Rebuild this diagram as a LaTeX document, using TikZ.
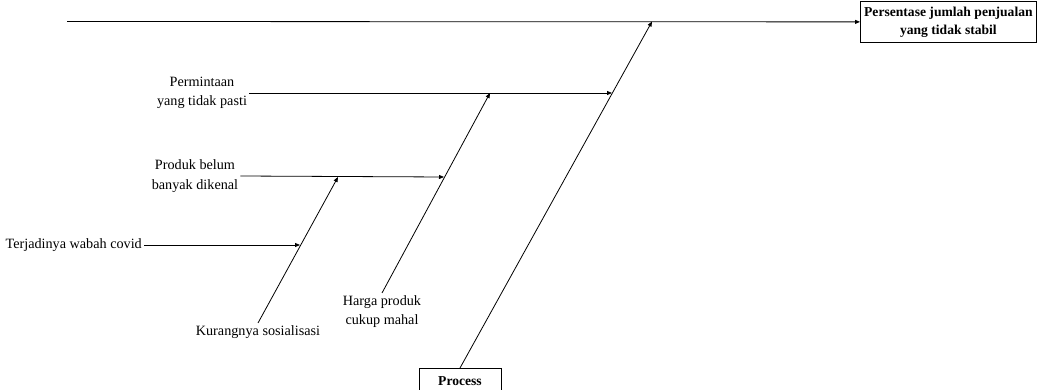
\documentclass[tikz,border=0pt]{standalone}
\usepackage{fontspec}
\setmainfont{Liberation Serif}
\usetikzlibrary{positioning, arrows.meta}
\tikzset{kotak/.style={rectangle,draw,line width=0.8pt,font=\fontsize{13.6}{18}\selectfont\bfseries,align=center},
	sebab/.style={align=center,inner sep=2pt},
	tulang/.style={-{Triangle[length=5pt,width=4pt]},line width=0.8pt} }

\begin{document}
\begin{tikzpicture}
	[x=1pt, y=-1pt, font=\fontsize{14.2}{19.5}\selectfont]
  \clip (0,0) rectangle (1041,390);

  % kepala ikan dan tulang utama
  \node (akibat) [kotak, minimum width=176pt, minimum height=41pt, anchor=north west] at (860,1) {Persentase jumlah penjualan\\yang tidak stabil};
  \node (proses) [kotak, minimum width=82pt, minimum height=26pt, anchor=north] at (460,368) {Process};
  \coordinate (awal) at (67,21.5);
  \coordinate (kepala) at (652,21.5);
  \draw[tulang] (awal) -- (akibat.west);
  \draw[tulang] (proses.north) -- (kepala);

  % titik temu pada tulang
  \coordinate (m1) at (612,93);
  \coordinate (h1) at (490,93);
  \coordinate (h2) at (444,177);
  \coordinate (k1) at (338,177);
  \coordinate (k2) at (300,245);

  % sebab
  \node (minta) [sebab] at (202,93) {Permintaan\\yang tidak pasti};
  \node (produk) [sebab] at (195,176) {Produk belum\\banyak dikenal};
  \node (covid) [sebab, anchor=east] at (144,245) {Terjadinya wabah covid};
  \node (harga) [sebab, anchor=north] at (382,293) {Harga produk\\cukup mahal};
  \node (kurang) [sebab, anchor=north] at (258,323) {Kurangnya sosialisasi};

  \draw[tulang] (minta.east) -- (m1);
  \draw[tulang] (produk.east) -- (h2);
  \draw[tulang] (covid.east) -- (k2);
  \draw[tulang] (harga.north) -- (h1);
  \draw[tulang] (kurang.north) -- (k1);
\end{tikzpicture}
\end{document}
